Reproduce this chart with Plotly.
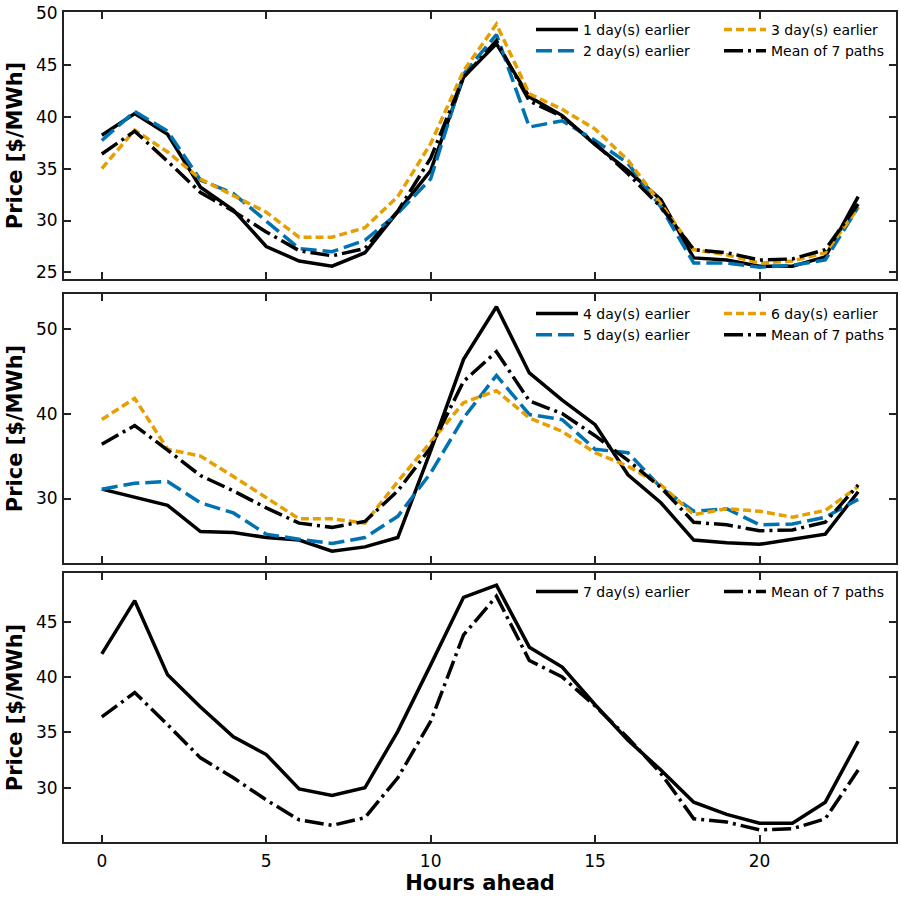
import plotly.graph_objects as go

hours = list(range(24))

mean_7 = [36.4, 38.6, 35.7, 32.7, 30.9, 28.9, 27.1, 26.6, 27.3, 30.9, 36.0, 43.8,
          47.3, 41.5, 40.0, 37.4, 34.5, 31.3, 27.2, 26.9, 26.2, 26.3, 27.2, 31.6]

day1 = [38.2, 40.3, 38.3, 33.2, 31.0, 27.5, 26.1, 25.6, 26.9, 30.9, 34.8, 43.8,
        47.0, 41.9, 40.1, 37.3, 34.8, 32.0, 26.4, 26.2, 25.6, 25.6, 26.5, 32.3]
day2 = [37.7, 40.5, 38.6, 33.9, 32.6, 30.0, 27.3, 27.0, 28.1, 30.7, 34.0, 44.1,
        47.9, 39.0, 39.6, 37.7, 35.5, 31.3, 25.9, 25.9, 25.5, 25.7, 26.2, 31.3]
day3 = [35.0, 38.7, 36.6, 34.0, 32.4, 30.8, 28.4, 28.4, 29.3, 32.3, 37.4, 44.4,
        48.9, 42.2, 40.7, 38.8, 35.8, 31.6, 27.2, 26.7, 25.9, 26.1, 26.9, 31.2]
day4 = [31.1, 30.2, 29.2, 26.1, 26.0, 25.4, 25.1, 23.8, 24.3, 25.4, 35.6, 46.4,
        52.6, 44.8, 41.6, 38.7, 32.8, 29.5, 25.1, 24.8, 24.6, 25.2, 25.8, 30.8]
day5 = [31.1, 31.8, 32.0, 29.5, 28.3, 25.8, 25.2, 24.7, 25.4, 27.9, 33.0, 39.5,
        44.5, 39.9, 39.3, 35.8, 35.4, 31.3, 28.5, 28.8, 26.9, 27.0, 27.8, 29.9]
day6 = [39.3, 41.8, 35.8, 35.0, 32.6, 30.1, 27.6, 27.6, 27.1, 32.0, 36.6, 41.3,
        42.7, 39.5, 37.9, 35.4, 33.8, 31.6, 28.1, 28.8, 28.5, 27.8, 28.6, 31.4]
day7 = [42.1, 46.9, 40.2, 37.3, 34.6, 33.0, 29.9, 29.3, 30.0, 35.1, 41.1, 47.2,
        48.3, 42.7, 40.9, 37.5, 34.3, 31.6, 28.7, 27.6, 26.8, 26.8, 28.7, 34.2]

BLUE = "#0072B2"
ORANGE = "#E69F00"
FONT = "DejaVu Sans"

styles = {
    "solid": dict(color="black", width=3.5, dash="solid"),
    "dash": dict(color=BLUE, width=3.5, dash="16px,6px"),
    "dot": dict(color=ORANGE, width=3.5, dash="8px,4px"),
    "mean": dict(color="black", width=3.5, dash="19px,5px,3px,5px"),
}

# (row, name, values, style, legend)
series = [
    (1, "1 day(s) earlier", day1, "solid", "legend"),
    (1, "2 day(s) earlier", day2, "dash", "legend"),
    (1, "3 day(s) earlier", day3, "dot", "legend2"),
    (1, "Mean of 7 paths", mean_7, "mean", "legend2"),
    (2, "4 day(s) earlier", day4, "solid", "legend3"),
    (2, "5 day(s) earlier", day5, "dash", "legend3"),
    (2, "6 day(s) earlier", day6, "dot", "legend4"),
    (2, "Mean of 7 paths", mean_7, "mean", "legend4"),
    (3, "7 day(s) earlier", day7, "solid", "legend5"),
    (3, "Mean of 7 paths", mean_7, "mean", "legend6"),
]

fig = go.Figure()
for row, name, vals, st, leg in series:
    ax = "" if row == 1 else str(row)
    fig.add_trace(go.Scatter(x=hours, y=vals, mode="lines", name=name,
                             line=styles[st], legend=leg,
                             xaxis="x" + ax, yaxis="y" + ax))

W, H = 901, 901
ml, mr, mt, mb = 64, 5, 12, 59
ph = H - mt - mb


def dom(top_px, bot_px):
    return [1 - (bot_px - mt) / ph, 1 - (top_px - mt) / ph]


doms = [dom(12, 279), dom(294, 563), dom(573, 842)]
yranges = [[24.37, 50.07], [22.4, 54.1], [25.1, 49.4]]
ytickv = [[25, 30, 35, 40, 45, 50], [30, 40, 50], [30, 35, 40, 45]]

axcommon = dict(showline=True, linecolor="#222", linewidth=2, mirror="ticks",
                ticks="inside", ticklen=7, tickwidth=2, tickcolor="#222",
                showgrid=False, zeroline=False, automargin=False,
                tickfont=dict(family=FONT, size=17, color="black"))

lay = dict(width=W, height=H, margin=dict(l=ml, r=mr, t=mt, b=mb),
           paper_bgcolor="white", plot_bgcolor="white",
           font=dict(family=FONT, color="black"))

for i in range(3):
    k = "" if i == 0 else str(i + 1)
    lay["xaxis" + k] = dict(axcommon, range=[-1.15, 24.15], tickvals=[0, 5, 10, 15, 20],
                            anchor="y" + k, domain=[0, 1],
                            showticklabels=(i == 2))
    if i > 0:
        lay["xaxis" + k]["matches"] = "x"
    lay["yaxis" + k] = dict(axcommon, range=yranges[i], tickvals=ytickv[i],
                            anchor="x" + k, domain=doms[i],
                            ticklabelstandoff=1,
                            title=dict(text="<b>Price [$/MWh]</b>", standoff=8,
                                       font=dict(family=FONT, size=21)))

lay["xaxis3"]["title"] = dict(text="<b>Hours ahead</b>", standoff=4,
                              font=dict(family=FONT, size=21))
lay["xaxis3"]["ticklabelstandoff"] = 3

# two-column legends, positioned at top right of each panel
col_x = [(531 - ml) / (W - ml - mr), (719 - ml) / (W - ml - mr)]
leg_tops = [14, 298, 576]
names = ["legend", "legend2", "legend3", "legend4", "legend5", "legend6"]
for j, nm in enumerate(names):
    row = j // 2
    lay[nm] = dict(x=col_x[j % 2], xanchor="left",
                   y=1 - (leg_tops[row] - mt) / ph, yanchor="top",
                   bgcolor="rgba(0,0,0,0)", borderwidth=0,
                   font=dict(family=FONT, size=14, color="black"),
                   itemwidth=42)

fig.update_layout(**lay)
fig.write_html("out.html", config={"displayModeBar": False},
               post_script="document.body.style.margin='0';")
